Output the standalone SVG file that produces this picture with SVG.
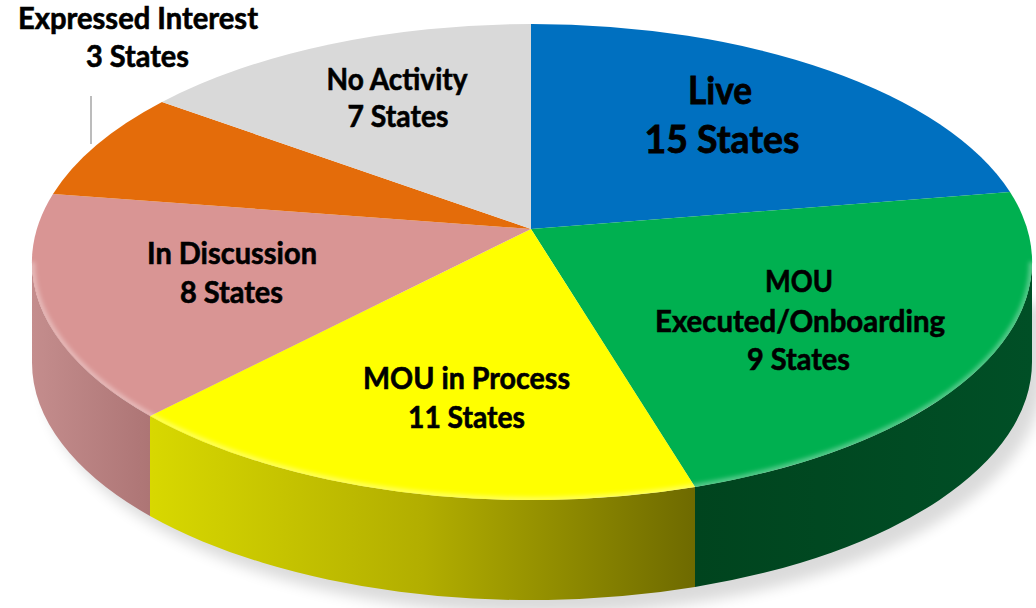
<svg xmlns="http://www.w3.org/2000/svg" width="1036" height="608" viewBox="0 0 1036 608">
  <style>
    .lbl { font-family: Lato, "Open Sans", "Liberation Sans", sans-serif; font-weight: 700; font-size: 30px; fill: #000; stroke: #000; stroke-width: 0.6; text-anchor: middle; }
    .big { font-size: 38px; stroke-width: 0.8; }
    .face { stroke: none; }
    .leader { stroke: #A6A6A6; stroke-width: 1.5; fill: none; }
  </style>
  <defs>
    <linearGradient id="gPinkSide" gradientUnits="userSpaceOnUse" x1="32" y1="0" x2="150" y2="0">
      <stop offset="0" stop-color="#C48D8D"/>
      <stop offset="1" stop-color="#AD7575"/>
    </linearGradient>
    <linearGradient id="gYellowSide" gradientUnits="userSpaceOnUse" x1="150" y1="0" x2="695" y2="0">
      <stop offset="0" stop-color="#D8D800"/>
      <stop offset="0.5" stop-color="#B2AE00"/>
      <stop offset="1" stop-color="#6E6A00"/>
    </linearGradient>
    <linearGradient id="gGreenSide" gradientUnits="userSpaceOnUse" x1="695" y1="0" x2="1032" y2="0">
      <stop offset="0" stop-color="#00441E"/>
      <stop offset="1" stop-color="#004F26"/>
    </linearGradient>
    <filter id="fShadow" x="-10%" y="-10%" width="120%" height="130%">
      <feGaussianBlur stdDeviation="7"/>
    </filter>
    <filter id="fSoft" x="-5%" y="-5%" width="110%" height="110%">
      <feGaussianBlur stdDeviation="2"/>
    </filter>
    <clipPath id="clipTop">
      <ellipse cx="532" cy="262" rx="500" ry="238"/>
    </clipPath>
  </defs>

  <rect width="1036" height="608" fill="#FFFFFF"/>

  <!-- drop shadow -->
  <path d="M 40,372 A 500 238 0 0 0 1040,372 L 1040,300 L 40,300 Z" fill="#000" opacity="0.14" filter="url(#fShadow)" transform="translate(3,4)"/>

  <g id="slice-in-discussion-side">
    <path d="M 32,262 A 500 238 0 0 0 150,416 L 150,516 A 500 238 0 0 1 32,362 Z" fill="url(#gPinkSide)"/>
  </g>
  <g id="slice-mou-in-process-side">
    <path d="M 150,416 A 500 238 0 0 0 695,487 L 695,587 A 500 238 0 0 1 150,516 Z" fill="url(#gYellowSide)"/>
  </g>
  <g id="slice-mou-executed-side">
    <path d="M 695,487 A 500 238 0 0 0 1032,262 L 1032,362 A 500 238 0 0 1 695,587 Z" fill="url(#gGreenSide)"/>
  </g>

  <g id="slice-live">
    <path class="face" d="M 531,229 L 531,24 A 500 238 0 0 1 1010,192 Z" fill="#0070C0"/>
    <text class="lbl big" x="720" y="104" textLength="64" lengthAdjust="spacingAndGlyphs">Live</text>
    <text class="lbl big" x="722" y="153" textLength="155" lengthAdjust="spacingAndGlyphs">15 States</text>
  </g>

  <g id="slice-mou-executed">
    <path class="face" d="M 531,229 L 1010,192 A 500 238 0 0 1 695,487 Z" fill="#00B050"/>
  </g>

  <g id="slice-mou-in-process">
    <path class="face" d="M 531,229 L 695,487 A 500 238 0 0 1 150,416 Z" fill="#FFFF00"/>
  </g>

  <g id="slice-in-discussion">
    <path class="face" d="M 531,229 L 150,416 A 500 238 0 0 1 53,194 Z" fill="#D99594"/>
  </g>

  <g id="slice-expressed-interest">
    <path class="face" d="M 531,229 L 53,194 A 500 238 0 0 1 162,102 Z" fill="#E46C0A"/>
  </g>

  <g id="slice-no-activity">
    <path class="face" d="M 531,229 L 162,102 A 500 238 0 0 1 531,24 Z" fill="#D9D9D9"/>
  </g>

  <!-- rim bevel highlight -->
  <g clip-path="url(#clipTop)">
    <path d="M 32,262 A 500 238 0 0 0 1032,262" fill="none" stroke="#FFFFFF" stroke-opacity="0.35" stroke-width="6" filter="url(#fSoft)"/>
  </g>

  <!-- labels -->
  <g id="label-no-activity">
    <text class="lbl" x="397" y="90" textLength="141" lengthAdjust="spacingAndGlyphs">No Activity</text>
    <text class="lbl" x="398" y="127" textLength="101" lengthAdjust="spacingAndGlyphs">7 States</text>
  </g>
  <g id="label-in-discussion">
    <text class="lbl" x="232" y="264" textLength="170" lengthAdjust="spacingAndGlyphs">In Discussion</text>
    <text class="lbl" x="231.5" y="303" textLength="103" lengthAdjust="spacingAndGlyphs">8 States</text>
  </g>
  <g id="label-mou-executed">
    <text class="lbl" x="799" y="292" textLength="68" lengthAdjust="spacingAndGlyphs">MOU</text>
    <text class="lbl" x="800" y="332" textLength="290" lengthAdjust="spacingAndGlyphs">Executed/Onboarding</text>
    <text class="lbl" x="798.5" y="370" textLength="103" lengthAdjust="spacingAndGlyphs">9 States</text>
  </g>
  <g id="label-mou-in-process">
    <text class="lbl" x="466.5" y="389" textLength="207" lengthAdjust="spacingAndGlyphs">MOU in Process</text>
    <text class="lbl" x="466.5" y="428" textLength="117" lengthAdjust="spacingAndGlyphs">11 States</text>
  </g>
  <g id="label-expressed-interest">
    <text class="lbl" x="138" y="29" textLength="240" lengthAdjust="spacingAndGlyphs">Expressed Interest</text>
    <text class="lbl" x="137.5" y="67" textLength="103" lengthAdjust="spacingAndGlyphs">3 States</text>
  </g>

  <g id="connectors">
    <line class="leader" x1="91" y1="96" x2="91" y2="144"/>
  </g>
</svg>
